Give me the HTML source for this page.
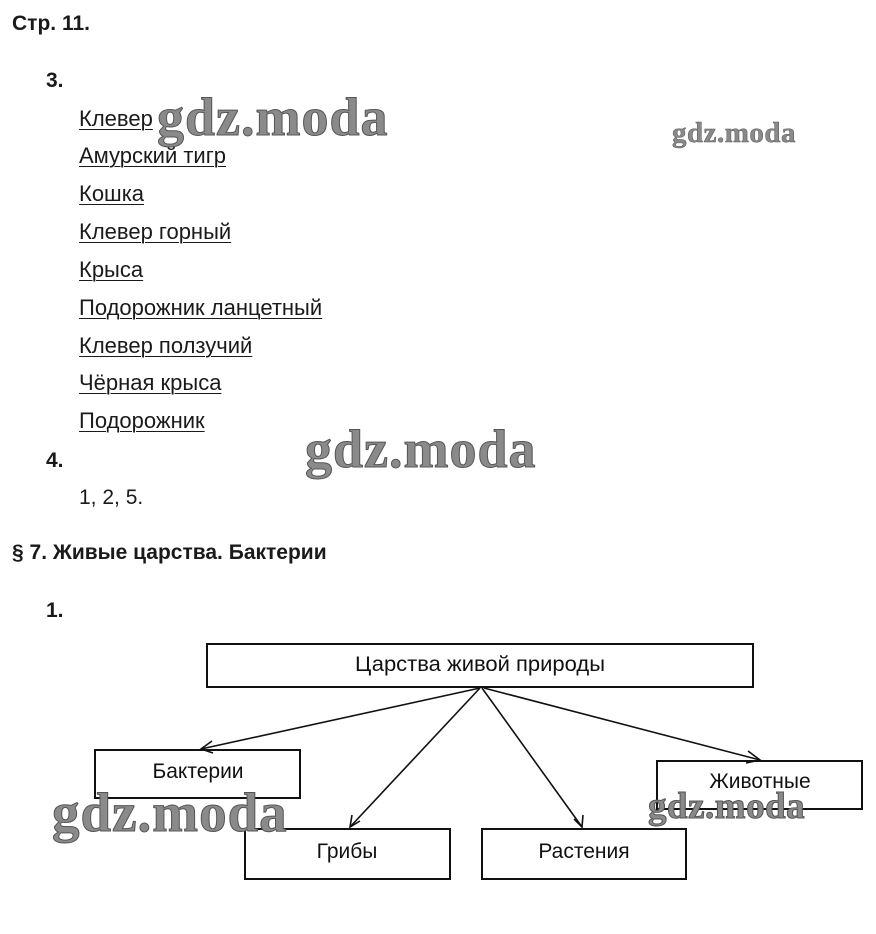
<!DOCTYPE html>
<html><head><meta charset="utf-8"><style>
body{margin:0;width:876px;height:934px;background:#fff;position:relative;overflow:hidden;font-family:"Liberation Sans",Arial,sans-serif;color:#1a1a1a}
.t{position:absolute;white-space:nowrap;line-height:22px}
.b{font-weight:bold;font-size:21px}
.i{font-size:22px;left:79px;text-decoration:underline;text-underline-offset:3px;text-decoration-thickness:1px}
.w{position:absolute;white-space:nowrap;font-family:"Liberation Serif",serif;font-weight:bold;color:#8a8a8a;-webkit-text-stroke:1px #555;letter-spacing:1px}
</style></head><body>
<div class="t b" style="left:12px;top:13px">Стр. 11.</div>
<div class="t b" style="left:46px;top:70px">3.</div>
<div class="t i" style="top:108px">Клевер</div>
<div class="t i" style="top:145px">Амурский тигр</div>
<div class="t i" style="top:183px">Кошка</div>
<div class="t i" style="top:221px">Клевер горный</div>
<div class="t i" style="top:259px">Крыса</div>
<div class="t i" style="top:297px">Подорожник ланцетный</div>
<div class="t i" style="top:335px">Клевер ползучий</div>
<div class="t i" style="top:372px">Чёрная крыса</div>
<div class="t i" style="top:410px">Подорожник</div>
<div class="t b" style="left:46px;top:450px">4.</div>
<div class="t" style="left:79px;top:487px;font-size:21px">1, 2, 5.</div>
<div class="t b" style="left:12px;top:542px">§ 7. Живые царства. Бактерии</div>
<div class="t b" style="left:46px;top:600px">1.</div>

<svg style="position:absolute;left:0;top:0" width="876" height="934">
<g fill="none" stroke="#111" stroke-width="2">
<rect x="207" y="644" width="546" height="43"/>
<rect x="95" y="750" width="205" height="48"/>
<rect x="245" y="829" width="205" height="50"/>
<rect x="482" y="829" width="204" height="50"/>
<rect x="657" y="761" width="205" height="48"/>
</g>
<g stroke="#111" stroke-width="1.6" fill="none">
<line x1="480" y1="688" x2="201" y2="749"/>
<polyline points="212,741 201,749 213,753"/>
<line x1="480" y1="688" x2="350" y2="827"/>
<polyline points="352,815 350,827 360,821"/>
<line x1="482" y1="688" x2="582" y2="827"/>
<polyline points="574,819 582,827 583,815"/>
<line x1="484" y1="688" x2="760" y2="760"/>
<polyline points="748,751 760,760 746,763"/>
</g>
<g font-family="Liberation Sans, Arial, sans-serif" font-size="21" fill="#111" text-anchor="middle">
<text x="480" y="671" textLength="250" lengthAdjust="spacingAndGlyphs">Царства живой природы</text>
<text x="198" y="778">Бактерии</text>
<text x="347" y="858">Грибы</text>
<text x="584" y="858">Растения</text>
<text x="760" y="788">Животные</text>
</g>
</svg>

<div class="w" style="left:157px;top:86px;font-size:54px">gdz.moda</div>
<div class="w" style="left:672px;top:117px;font-size:29px;-webkit-text-stroke:0.5px #555;letter-spacing:0.5px">gdz.moda</div>
<div class="w" style="left:305px;top:418px;font-size:54px">gdz.moda</div>
<div class="w" style="left:52px;top:781px;font-size:55px">gdz.moda</div>
<div class="w" style="left:648px;top:785px;font-size:37px;letter-spacing:0.5px">gdz.moda</div>
</body></html>
